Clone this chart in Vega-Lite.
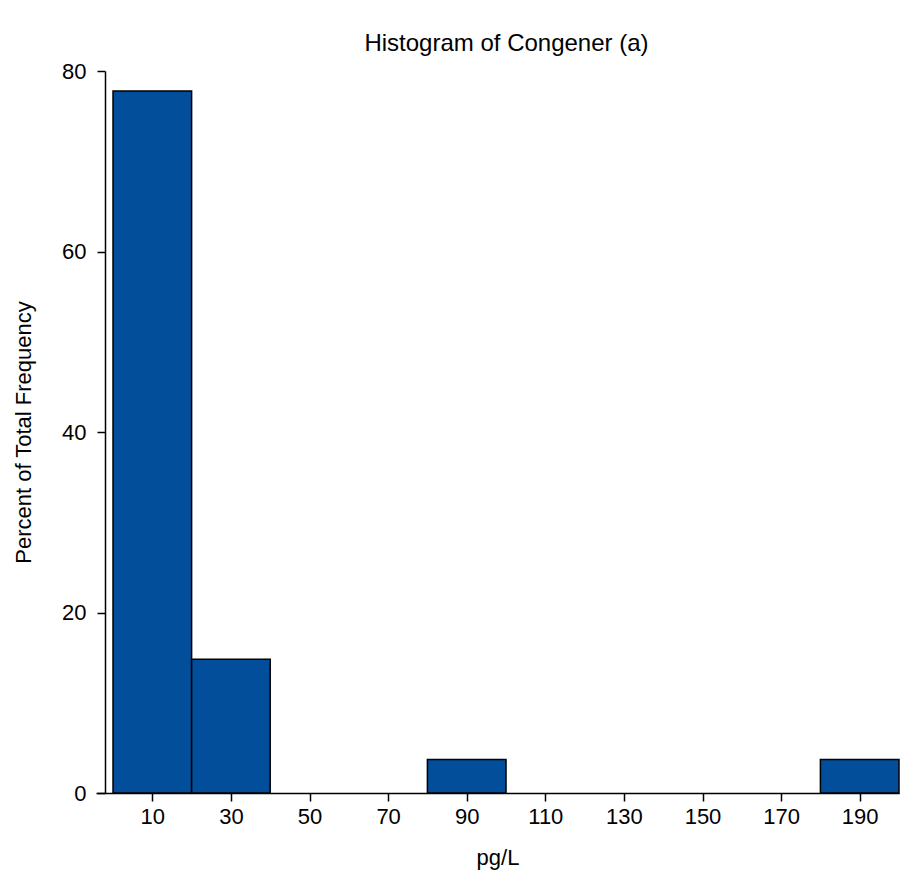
{
  "$schema": "https://vega.github.io/schema/vega-lite/v6.json",
  "autosize": "none",
  "width": 803,
  "height": 722,
  "padding": {"left": 96, "top": 71, "right": 16, "bottom": 99},
  "background": "white",
  "title": {
    "text": "Histogram of Congener (a)",
    "font": "Liberation Sans",
    "fontSize": 24,
    "fontWeight": "normal",
    "color": "#000000",
    "baseline": "alphabetic",
    "offset": 17,
    "dx": 9,
    "dy": 32
  },
  "config": {
    "view": {"stroke": null},
    "axis": {
      "labelFont": "Liberation Sans",
      "titleFont": "Liberation Sans",
      "labelColor": "#000000",
      "titleColor": "#000000",
      "domainColor": "#000000",
      "tickColor": "#000000",
      "grid": false,
      "titleFontWeight": "normal",
      "domainWidth": 1.5,
      "tickWidth": 1.5,
      "tickSize": 8
    }
  },
  "data": {
    "values": [
      {"bin_start": 0, "bin_end": 20, "percent": 77.78},
      {"bin_start": 20, "bin_end": 40, "percent": 14.81},
      {"bin_start": 80, "bin_end": 100, "percent": 3.70},
      {"bin_start": 180, "bin_end": 200, "percent": 3.70}
    ]
  },
  "mark": {"type": "bar", "color": "#034e9a", "stroke": "#000000", "strokeWidth": 1.5},
  "encoding": {
    "x": {
      "field": "bin_start",
      "type": "quantitative",
      "scale": {"domain": [-4.33, 200], "nice": false, "zero": false},
      "axis": {
        "title": "pg/L",
        "values": [10, 30, 50, 70, 90, 110, 130, 150, 170, 190],
        "labelFontSize": 22,
        "titleFontSize": 22,
        "labelPadding": 5,
        "titlePadding": 20,
        "labelFlush": false
      }
    },
    "x2": {"field": "bin_end"},
    "y": {
      "field": "percent",
      "type": "quantitative",
      "scale": {"domain": [0, 80], "nice": false},
      "axis": {
        "title": "Percent of Total Frequency",
        "values": [0, 20, 40, 60, 80],
        "offset": -9,
        "labelFontSize": 22,
        "titleFontSize": 22,
        "labelPadding": 11,
        "titlePadding": 26,
        "labelFlush": false
      }
    },
    "y2": {"datum": 0}
  }
}
